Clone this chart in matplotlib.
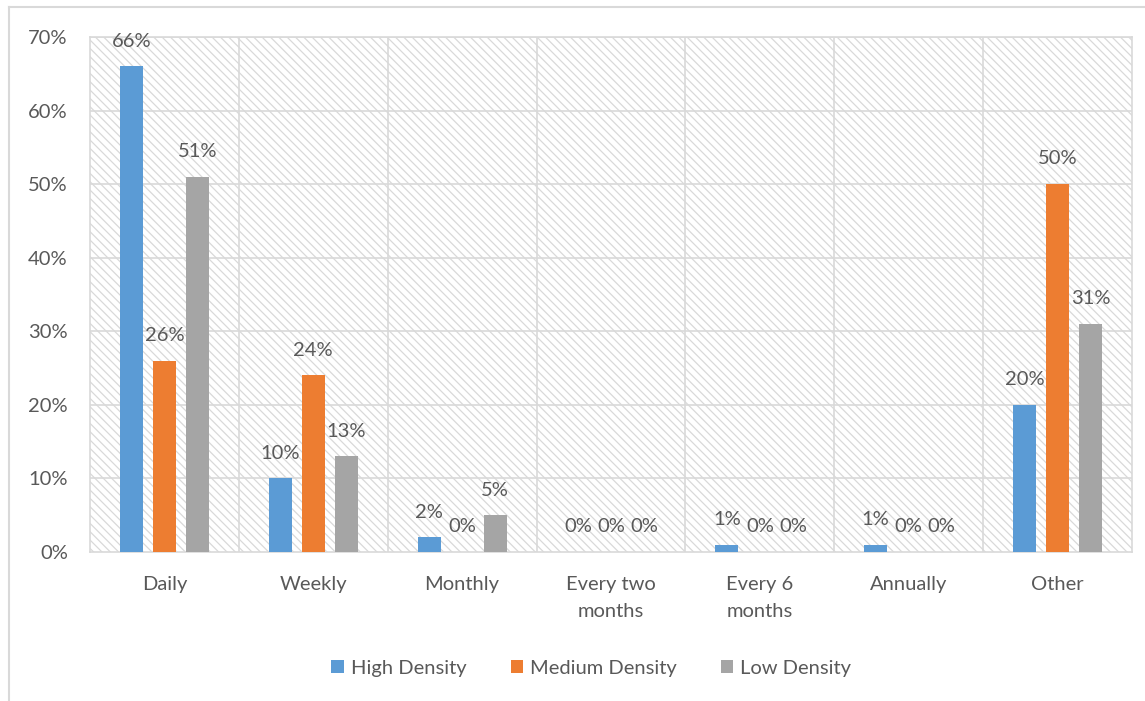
import matplotlib

matplotlib.use("Agg")
import matplotlib.pyplot as plt
import numpy as np
from matplotlib.lines import Line2D
from matplotlib.patches import Rectangle

categories = ["Daily", "Weekly", "Monthly", "Every two\nmonths",
              "Every 6\nmonths", "Annually", "Other"]
series_names = ["High Density", "Medium Density", "Low Density"]
high = [66, 10, 2, 0, 1, 1, 20]
medium = [26, 24, 0, 0, 0, 0, 50]
low = [51, 13, 5, 0, 0, 0, 31]
colors = ["#5B9BD5", "#ED7D31", "#A5A5A5"]

TEXT = "#595959"
GRID = "#D9D9D9"
FS = 14.5
plt.rcParams["font.family"] = ["Lato", "DejaVu Sans"]
plt.rcParams["hatch.linewidth"] = 0.9

fig = plt.figure(figsize=(11.45, 7.01), dpi=100)
ax = fig.add_axes([0.0786, 0.2126, 0.91, 0.7346])

# hatched plot-area background
ax.add_patch(Rectangle((0, 0), 1, 1, transform=ax.transAxes,
                       facecolor="none", edgecolor=GRID, hatch="\\\\\\\\",
                       lw=0, zorder=0))

x = np.arange(len(categories))
width, step = 0.155, 0.222
for i, (vals, name, c) in enumerate(zip((high, medium, low),
                                         series_names, colors)):
    xs = x + (i - 1) * step
    ax.bar(xs, vals, width, color=c, label=name, zorder=3)
    for xi, v in zip(xs, vals):
        ax.annotate(f"{v}%", (xi, v), xytext=(0, 12),
                    textcoords="offset points", ha="center", va="bottom",
                    fontsize=FS, color=TEXT)

ax.set_xlim(-0.5, len(categories) - 0.5)
ax.set_ylim(0, 70)
ax.set_yticks(range(0, 71, 10))
ax.set_yticklabels([f"{v}%" for v in range(0, 71, 10)])
ax.set_xticks(x)
ax.set_xticklabels(categories, linespacing=1.75)
ax.tick_params(length=0, labelsize=FS, colors=TEXT)
ax.tick_params(axis="y", pad=16)
ax.tick_params(axis="x", pad=17)

for v in range(10, 71, 10):
    ax.axhline(v, color=GRID, lw=1.2, zorder=1)
for b in np.arange(0.5, len(categories) - 0.5):
    ax.axvline(b, color=GRID, lw=1.2, zorder=1)
for s in ax.spines.values():
    s.set_color(GRID)
    s.set_linewidth(1.2)

ax.legend(loc="center", bbox_to_anchor=(0.481, -0.226), ncol=3,
          frameon=False, fontsize=FS, handlelength=0.6, handleheight=0.6,
          handletextpad=0.35, columnspacing=2.2, labelcolor=TEXT)

# chart frame
fig.add_artist(Line2D([0.008, 1.0], [0.990, 0.990], color=GRID, lw=1.5))
fig.add_artist(Line2D([0.008, 0.008], [0.0, 0.990], color=GRID, lw=1.5))

fig.savefig("out.png", dpi=100)
